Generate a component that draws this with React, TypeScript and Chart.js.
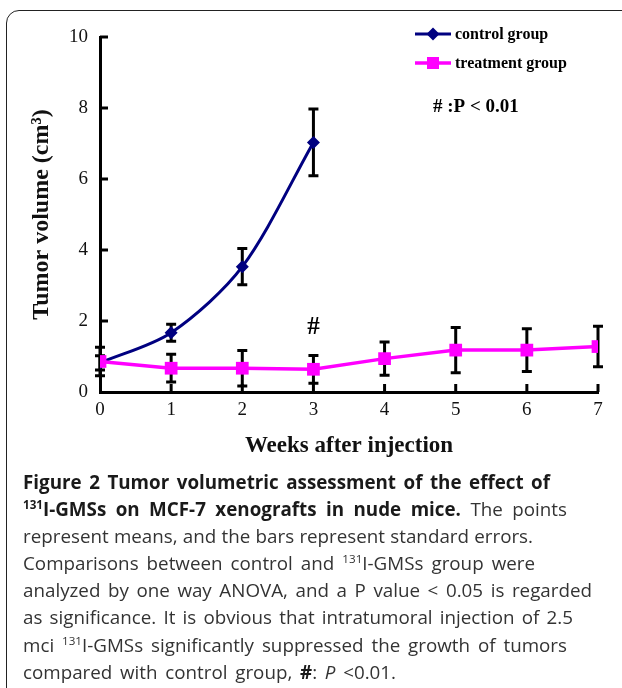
import React, { useEffect, useRef } from 'react';
import { Chart, registerables } from 'chart.js';

Chart.register(...registerables);

// ---------------- data ----------------
const controlWeeks = [0, 1, 2, 3];
const controlMean = [0.82, 1.67, 3.53, 7.03];
const controlSE = [0.2, 0.24, 0.51, 0.94];

const treatmentWeeks = [0, 1, 2, 3, 4, 5, 6, 7];
const treatmentMean = [0.86, 0.67, 0.67, 0.64, 0.94, 1.18, 1.18, 1.28];
const treatmentSE = [0.4, 0.39, 0.5, 0.39, 0.47, 0.64, 0.6, 0.57];

const xTickValues = [0, 1, 2, 3, 4, 5, 6, 7];
const yTickValues = [0, 2, 4, 6, 8, 10];

const seriesNames = ['control group', 'treatment group'];
const sigWeeks = [3];
const sigLevels = [1.82];
const sigNote = '# :P < 0.01';
const xTitle = 'Weeks after injection';
const yTitle = 'Tumor volume (cm\u00B3)';

const NAVY = '#000080';
const MAGENTA = '#FF00FF';
const SERIF = '"Liberation Serif", "Times New Roman", serif';

// ---------------- plugins ----------------
const errorBarPlugin = {
  id: 'errorBars',
  beforeDatasetsDraw(chart: any) {
    const { ctx, scales } = chart;
    const x = scales.x;
    const y = scales.y;
    ctx.save();
    ctx.strokeStyle = '#000';
    ctx.lineWidth = 3;
    chart.data.datasets.forEach((ds: any) => {
      ds.data.forEach((p: any, i: number) => {
        const se = ds.errors[i];
        const px = x.getPixelForValue(p.x);
        const yt = y.getPixelForValue(p.y + se);
        const yb = y.getPixelForValue(p.y - se);
        ctx.beginPath();
        ctx.moveTo(px, yt);
        ctx.lineTo(px, yb);
        ctx.moveTo(px - 5, yt);
        ctx.lineTo(px + 5, yt);
        ctx.moveTo(px - 5, yb);
        ctx.lineTo(px + 5, yb);
        ctx.stroke();
      });
    });
    ctx.restore();
  },
};

const innerTickPlugin = {
  id: 'innerTicks',
  beforeDatasetsDraw(chart: any) {
    const { ctx, chartArea, scales } = chart;
    ctx.save();
    ctx.strokeStyle = '#000';
    ctx.lineWidth = 3;
    yTickValues.forEach((v) => {
      if (v === 0) return;
      const py = scales.y.getPixelForValue(v);
      ctx.beginPath();
      ctx.moveTo(chartArea.left, py);
      ctx.lineTo(chartArea.left + 8, py);
      ctx.stroke();
    });
    xTickValues.forEach((v) => {
      if (v === 0) return;
      const px = scales.x.getPixelForValue(v);
      ctx.beginPath();
      ctx.moveTo(px, chartArea.bottom);
      ctx.lineTo(px, chartArea.bottom - 8);
      ctx.stroke();
    });
    ctx.restore();
  },
};

const annotationPlugin = {
  id: 'annotations',
  afterDraw(chart: any) {
    const { ctx, scales } = chart;
    ctx.save();
    // significance markers
    ctx.fillStyle = '#000';
    ctx.font = `bold 25px ${SERIF}`;
    ctx.textAlign = 'center';
    ctx.textBaseline = 'middle';
    sigWeeks.forEach((w, i) => {
      ctx.fillText('#', scales.x.getPixelForValue(w), scales.y.getPixelForValue(sigLevels[i]));
    });

    // legend
    const lx0 = 415;
    const lx1 = 451;
    const mx = 433;
    const rows = [34, 63];
    ctx.textAlign = 'left';
    ctx.font = `bold 16px ${SERIF}`;
    // control
    ctx.strokeStyle = NAVY;
    ctx.lineWidth = 3;
    ctx.beginPath();
    ctx.moveTo(lx0, rows[0]);
    ctx.lineTo(lx1, rows[0]);
    ctx.stroke();
    ctx.fillStyle = NAVY;
    ctx.beginPath();
    ctx.moveTo(mx - 6.5, rows[0]);
    ctx.lineTo(mx, rows[0] - 6.5);
    ctx.lineTo(mx + 6.5, rows[0]);
    ctx.lineTo(mx, rows[0] + 6.5);
    ctx.closePath();
    ctx.fill();
    ctx.fillStyle = '#000';
    ctx.fillText(seriesNames[0], 455, rows[0] + 1);
    // treatment
    ctx.strokeStyle = MAGENTA;
    ctx.lineWidth = 3.5;
    ctx.beginPath();
    ctx.moveTo(lx0, rows[1]);
    ctx.lineTo(lx1, rows[1]);
    ctx.stroke();
    ctx.fillStyle = MAGENTA;
    ctx.fillRect(mx - 6, rows[1] - 6, 12, 12);
    ctx.fillStyle = '#000';
    ctx.fillText(seriesNames[1], 455, rows[1] + 1);
    // note
    ctx.font = `bold 19px ${SERIF}`;
    ctx.fillText(sigNote, 433, 107);
    ctx.restore();
  },
};

function ChartBox() {
  const ref = useRef<HTMLCanvasElement | null>(null);
  useEffect(() => {
    if (!ref.current) return;
    const chart = new Chart(ref.current, {
      type: 'line',
      data: {
        datasets: [
          {
            label: seriesNames[0],
            data: controlWeeks.map((w, i) => ({ x: w, y: controlMean[i] })),
            errors: controlSE,
            borderColor: NAVY,
            backgroundColor: NAVY,
            borderWidth: 3,
            pointStyle: 'rectRot',
            pointRadius: 6.5,
            pointBorderWidth: 0,
            pointBackgroundColor: NAVY,
            tension: 0.3,
            order: 2,
          } as any,
          {
            label: seriesNames[1],
            data: treatmentWeeks.map((w, i) => ({ x: w, y: treatmentMean[i] })),
            errors: treatmentSE,
            borderColor: MAGENTA,
            backgroundColor: MAGENTA,
            borderWidth: 3.5,
            pointStyle: 'rect',
            pointRadius: 9,
            pointBorderWidth: 0,
            pointBackgroundColor: MAGENTA,
            tension: 0,
            order: 1,
          } as any,
        ],
      },
      options: {
        animation: false,
        responsive: false,
        devicePixelRatio: 1,
        layout: { padding: { left: 0, top: 37, right: 24, bottom: 0 } },
        plugins: {
          legend: { display: false },
          tooltip: { enabled: false },
        },
        scales: {
          x: {
            type: 'linear',
            min: 0,
            max: 7,
            afterBuildTicks: (s: any) => {
              s.ticks = xTickValues.map((v) => ({ value: v }));
            },
            grid: { display: false, drawTicks: false },
            border: { display: true, color: '#000', width: 3 },
            ticks: {
              font: { family: SERIF, size: 19 },
              color: '#111',
              padding: 7,
            },
            title: {
              display: true,
              text: xTitle,
              color: '#111',
              font: { family: SERIF, size: 23, weight: 'bold' },
              padding: { top: 0, bottom: 10 },
            },
            afterFit: (s: any) => {
              s.height = 78;
            },
          },
          y: {
            type: 'linear',
            min: 0,
            max: 10,
            afterBuildTicks: (s: any) => {
              s.ticks = yTickValues.map((v) => ({ value: v }));
            },
            grid: { display: false, drawTicks: false },
            border: { display: true, color: '#000', width: 3 },
            ticks: {
              font: { family: SERIF, size: 19 },
              color: '#111',
              padding: 12,
            },
            title: {
              display: true,
              text: yTitle,
              color: '#111',
              font: { family: SERIF, size: 24, weight: 'bold' },
              padding: { top: 27, bottom: 0 },
            },
            afterFit: (s: any) => {
              s.width = 100;
            },
          },
        },
      } as any,
      plugins: [errorBarPlugin, innerTickPlugin, annotationPlugin],
    });
    return () => chart.destroy();
  }, []);
  return <canvas ref={ref} width={622} height={470} style={{ display: 'block', width: 622, height: 470 }} />;
}

const supStyle: React.CSSProperties = {
  fontSize: '0.62em',
  lineHeight: 0,
  verticalAlign: '0.6em',
};

const boldStyle: React.CSSProperties = { fontWeight: 700, color: '#1a1a1a' };

function Line({ w, children }: { w: number; children: React.ReactNode }) {
  return (
    <div style={{ width: w, textAlign: 'justify', textAlignLast: 'justify', whiteSpace: 'nowrap' }}>
      {children}
    </div>
  );
}

export default function App() {
  return (
    <div
      style={{
        position: 'absolute',
        left: 0,
        top: 0,
        width: 622,
        height: 688,
        overflow: 'hidden',
        background: '#fff',
      }}
    >
      <div
        style={{
          position: 'absolute',
          left: 6,
          top: 10,
          width: 660,
          height: 720,
          border: '1.5px solid #222',
          borderRadius: 13,
          boxSizing: 'border-box',
        }}
      />
      <div style={{ position: 'absolute', left: 0, top: 0 }}>
        <ChartBox />
      </div>
      <div
        style={{
          position: 'absolute',
          left: 23,
          top: 469,
          fontFamily: '"Open Sans", sans-serif',
          fontSize: 18.8,
          lineHeight: '27.1px',
          color: '#333',
        }}
      >
        <Line w={527}>
          <span style={boldStyle}>Figure 2 Tumor volumetric assessment of the effect of</span>
        </Line>
        <Line w={544}>
          <span style={boldStyle}>
            <sup style={supStyle}>131</sup>I-GMSs on MCF-7 xenografts in nude mice.
          </span>{' '}
          The points
        </Line>
        <Line w={510}>represent means, and the bars represent standard errors.</Line>
        <Line w={512}>
          Comparisons between control and <sup style={supStyle}>131</sup>I-GMSs group were
        </Line>
        <Line w={569}>analyzed by one way ANOVA, and a P value &lt; 0.05 is regarded</Line>
        <Line w={550}>as significance. It is obvious that intratumoral injection of 2.5</Line>
        <Line w={544}>
          mci <sup style={supStyle}>131</sup>I-GMSs significantly suppressed the growth of tumors
        </Line>
        <Line w={373}>
          compared with control group, <b style={{ color: '#1a1a1a' }}>#</b>: <i>P</i> &lt;0.01.
        </Line>
      </div>
    </div>
  );
}
